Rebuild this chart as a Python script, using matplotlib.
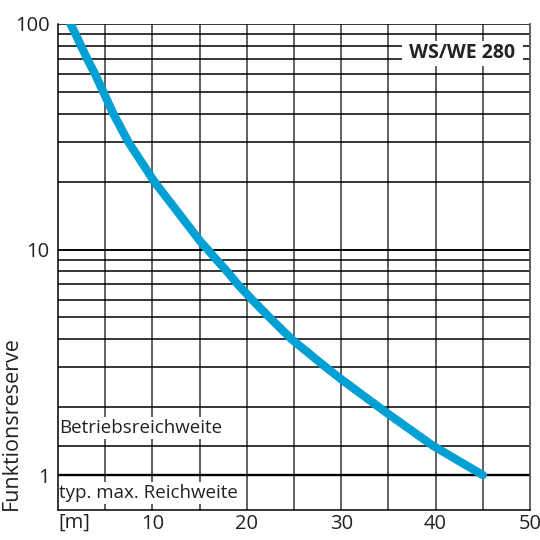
import matplotlib
matplotlib.use("Agg")
import matplotlib.pyplot as plt
import numpy as np

plt.rcParams['font.family'] = ['Open Sans', 'DejaVu Sans']

# Data (curve crossings with the grid lines)
distance_m = [1.32, 1.87, 2.44, 3.1, 3.92, 4.8, 5.86, 7.45, 10.2, 12.5,
              15.1, 15.85, 16.8, 17.9, 19.05, 20.55, 22.4, 24.75, 28.4,
              30.1, 34.0, 35.1, 39.7, 45.0]
reserve = [100, 90, 80, 70, 60, 50, 40, 30, 20, 15.0,
           10.83, 10, 9, 8, 7, 6, 5, 4, 3,
           2.64, 2, 1.85, 1.35, 1.0]
x_ticks = [10, 20, 30, 40, 50]
y_ticks = [1, 10, 100]
operating_range_level = 1.35
max_range_level = 1.0
product_label = "WS/WE 280"
label_operating = "Betriebsreichweite"
label_max = "typ. max. Reichweite"
y_label = "Funktionsreserve"
x_unit = "[m]"

TXT = '#222222'

fig = plt.figure(figsize=(5.4, 5.4), dpi=100)
ax = fig.add_axes([0.1074, 0.0556, 0.8741, 0.9])
ax.set_yscale('log')
ax.set_xlim(0, 50)
ax.set_ylim(0.70, 100)

# grid: vertical every 5
for xv in np.arange(5, 50, 5):
    ax.axvline(xv, color='#555555', lw=1.3, zorder=1)
# horizontal log grid
for dec in [1, 10]:
    for m in range(1, 11):
        ax.axhline(dec * m, color='black', lw=1.1, zorder=1)
ax.axhline(max_range_level, color='black', lw=1.7, zorder=1)
ax.axhline(operating_range_level, color='black', lw=1.1, zorder=1)

# curve
ax.plot(distance_m, reserve, color='#009fd4', lw=6, solid_capstyle='round',
        solid_joinstyle='round', zorder=3)

ax.spines['top'].set_visible(False)
ax.spines['left'].set_color('black')
ax.spines['bottom'].set_color('black')
ax.spines['right'].set_color('#555555')
ax.spines['right'].set_linewidth(1.3)
ax.spines['left'].set_linewidth(1.1)
ax.spines['bottom'].set_linewidth(1.1)

ax.set_xticks(x_ticks)
ax.set_xticklabels([str(t) for t in x_ticks])
ax.set_yticks(y_ticks)
ax.set_yticklabels([str(t) for t in y_ticks])
ax.yaxis.set_minor_locator(matplotlib.ticker.NullLocator())
ax.tick_params(axis='both', length=0, labelsize=14.5, colors=TXT)
ax.tick_params(axis='x', pad=3)
ax.tick_params(axis='y', pad=6)

ax.text(0.0, -0.0065, x_unit, transform=ax.transAxes, ha='left', va='top',
        fontsize=14.5, color=TXT)
ax.text(-0.12, 0.0, y_label, transform=ax.transAxes, rotation=90,
        ha='left', va='bottom', fontsize=15.5, color=TXT)

bbox = dict(facecolor='white', edgecolor='none', pad=1.5)
ax.text(0.15, 1.62, label_operating, ha='left', va='center', fontsize=13.5,
        color=TXT, bbox=bbox, zorder=2)
ax.text(0.15, 0.832, label_max, ha='left', va='center', fontsize=13.5,
        color=TXT, bbox=bbox, zorder=2)
ax.text(42.85, 74, " " + product_label + " ", ha='center', va='center',
        fontsize=14, fontweight='bold', color=TXT,
        bbox=dict(facecolor='white', edgecolor='none', pad=1.5), zorder=2)

fig.savefig('out.png', dpi=100)
